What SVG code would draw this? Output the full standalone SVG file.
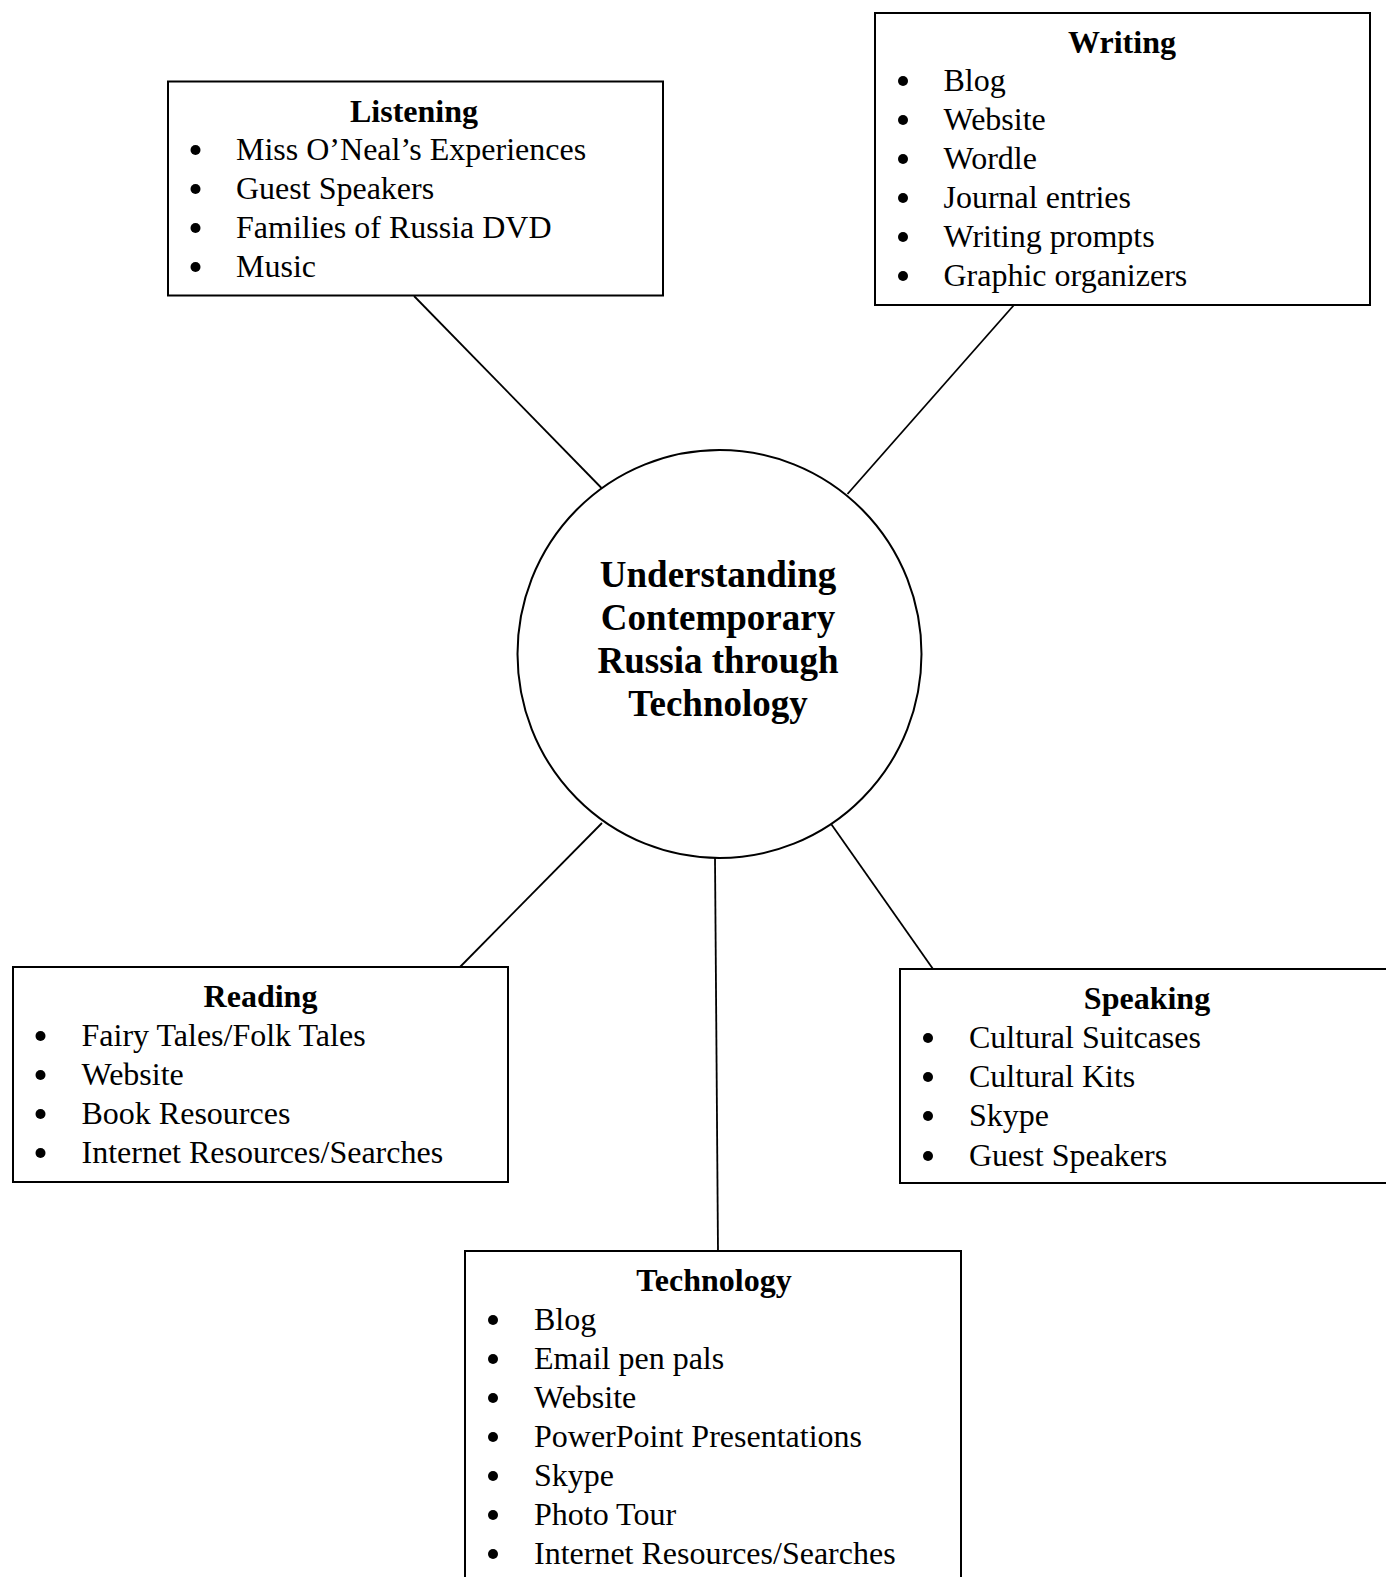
<svg xmlns="http://www.w3.org/2000/svg" width="1386" height="1577" viewBox="0 0 1386 1577">
<style>
.box{fill:#fff;stroke:#000;stroke-width:2}
.hub{fill:#fff;stroke:#000;stroke-width:2}
.con{stroke:#000;stroke-width:1.8;fill:none}
.t{font-family:"Liberation Serif","Times New Roman",serif;font-size:32px;fill:#000}
.h{font-family:"Liberation Serif","Times New Roman",serif;font-size:32px;font-weight:bold;fill:#000;text-anchor:middle}
.c{font-family:"Liberation Serif","Times New Roman",serif;font-size:37px;font-weight:bold;fill:#000;text-anchor:middle}
.b{fill:#000}
</style>
<rect width="1386" height="1577" fill="#fff"/>
<g id="connectors">
<line class="con" x1="414" y1="296" x2="601.5" y2="488"/>
<line class="con" x1="1014" y1="305" x2="847.5" y2="494"/>
<line class="con" x1="460" y1="967" x2="602" y2="823"/>
<line class="con" x1="933" y1="969" x2="831.5" y2="824.5"/>
<line class="con" x1="715" y1="858" x2="718" y2="1251"/>
</g>
<g id="hub">
<ellipse class="hub" cx="719.5" cy="654" rx="202" ry="204"/>
<text class="c" x="718" y="587">Understanding</text>
<text class="c" x="718" y="630">Contemporary</text>
<text class="c" x="718" y="673">Russia through</text>
<text class="c" x="718" y="716">Technology</text>
</g>
<g id="listening">
<rect class="box" x="168" y="81.5" width="495" height="214"/>
<text class="h" x="414" y="122">Listening</text>
<circle class="b" cx="195.5" cy="150" r="5"/><text class="t" x="236" y="160">Miss O’Neal’s Experiences</text>
<circle class="b" cx="195.5" cy="189" r="5"/><text class="t" x="236" y="199">Guest Speakers</text>
<circle class="b" cx="195.5" cy="228" r="5"/><text class="t" x="236" y="238">Families of Russia DVD</text>
<circle class="b" cx="195.5" cy="267" r="5"/><text class="t" x="236" y="277">Music</text>
</g>
<g id="writing">
<rect class="box" x="875" y="13" width="495" height="292"/>
<text class="h" x="1122" y="53">Writing</text>
<circle class="b" cx="903" cy="81" r="5"/><text class="t" x="943.5" y="91">Blog</text>
<circle class="b" cx="903" cy="120" r="5"/><text class="t" x="943.5" y="130">Website</text>
<circle class="b" cx="903" cy="159" r="5"/><text class="t" x="943.5" y="169">Wordle</text>
<circle class="b" cx="903" cy="198" r="5"/><text class="t" x="943.5" y="208">Journal entries</text>
<circle class="b" cx="903" cy="237" r="5"/><text class="t" x="943.5" y="247">Writing prompts</text>
<circle class="b" cx="903" cy="276" r="5"/><text class="t" x="943.5" y="286">Graphic organizers</text>
</g>
<g id="reading">
<rect class="box" x="13" y="967" width="495" height="215"/>
<text class="h" x="260.5" y="1007">Reading</text>
<circle class="b" cx="40.5" cy="1036" r="5"/><text class="t" x="81.5" y="1046">Fairy Tales/Folk Tales</text>
<circle class="b" cx="40.5" cy="1075" r="5"/><text class="t" x="81.5" y="1085">Website</text>
<circle class="b" cx="40.5" cy="1114" r="5"/><text class="t" x="81.5" y="1124">Book Resources</text>
<circle class="b" cx="40.5" cy="1153" r="5"/><text class="t" x="81.5" y="1163">Internet Resources/Searches</text>
</g>
<g id="speaking">
<rect class="box" x="900" y="969" width="496" height="214"/>
<text class="h" x="1147" y="1009">Speaking</text>
<circle class="b" cx="928" cy="1038" r="5"/><text class="t" x="969" y="1048">Cultural Suitcases</text>
<circle class="b" cx="928" cy="1077" r="5"/><text class="t" x="969" y="1087">Cultural Kits</text>
<circle class="b" cx="928" cy="1116" r="5"/><text class="t" x="969" y="1126">Skype</text>
<circle class="b" cx="928" cy="1156" r="5"/><text class="t" x="969" y="1166">Guest Speakers</text>
</g>
<g id="technology">
<rect class="box" x="465" y="1251" width="496" height="400"/>
<text class="h" x="714" y="1291">Technology</text>
<circle class="b" cx="493" cy="1320" r="5"/><text class="t" x="534" y="1330">Blog</text>
<circle class="b" cx="493" cy="1359" r="5"/><text class="t" x="534" y="1369">Email pen pals</text>
<circle class="b" cx="493" cy="1398" r="5"/><text class="t" x="534" y="1408">Website</text>
<circle class="b" cx="493" cy="1437" r="5"/><text class="t" x="534" y="1447">PowerPoint Presentations</text>
<circle class="b" cx="493" cy="1476" r="5"/><text class="t" x="534" y="1486">Skype</text>
<circle class="b" cx="493" cy="1515" r="5"/><text class="t" x="534" y="1525">Photo Tour</text>
<circle class="b" cx="493" cy="1554" r="5"/><text class="t" x="534" y="1564">Internet Resources/Searches</text>
</g>
</svg>
